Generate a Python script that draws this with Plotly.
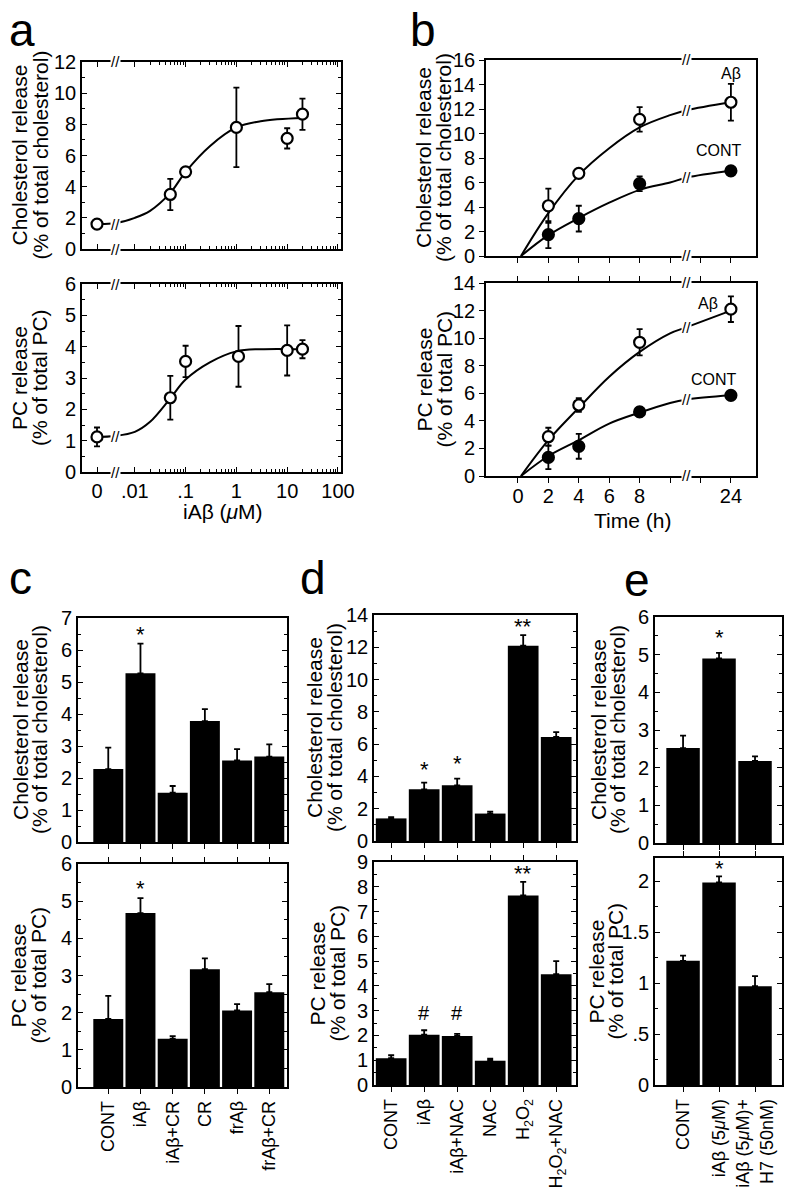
import math
import plotly.graph_objects as go

# the page body adds an 8 px margin, so the figure is drawn 8 px in from the corner
PAGE_W, PAGE_H, OFF = 792, 1199, 8
W, H = PAGE_W - OFF, PAGE_H - OFF
FONT = "Liberation Sans, Arial, Helvetica, sans-serif"

# ---------------- panel a: dose response (iAβ, µM) ----------------
A_CONC = [0, 0.05, 0.1, 1, 10, 20]
A_CHOL = [1.6, 3.5, 4.95, 7.8, 7.1, 8.65]
A_CHOL_ERR = [0.25, 1.0, 0.25, 2.55, 0.65, 1.0]
A_PC_CONC = [0, 0.05, 0.1, 1.1, 10, 20]
A_PC = [1.12, 2.37, 3.53, 3.69, 3.88, 3.92]
A_PC_ERR = [0.3, 0.7, 0.5, 0.97, 0.8, 0.29]
# fitted curves
A_FIT_CONC = [0, 0.004, 0.01, 0.02, 0.05, 0.1, 0.3, 1, 3, 20]
A_CHOL_FIT = [1.6, 1.65, 2.0, 2.45, 3.6, 4.95, 6.6, 7.8, 8.2, 8.4]
A_PC_FIT = [1.12, 1.15, 1.28, 1.6, 2.35, 2.95, 3.5, 3.85, 3.92, 3.92]
A_TICKS = [".01", ".1", "1", "10", "100"]
ZERO_POS = 0.0018      # where "0" sits on the broken log axis
A_BREAK = 0.0041

# ---------------- panel b: time course ----------------
B_TIME = [2, 4, 8, 24]
B_CHOL_AB = [4.1, 6.75, 11.15, 12.55]
B_CHOL_AB_ERR = [1.4, 0.35, 1.0, 1.5]
B_CHOL_CONT = [1.75, 3.05, 5.9, 6.95]
B_CHOL_CONT_ERR = [1.1, 1.05, 0.6, 0.3]
B_PC_AB = [2.85, 5.15, 9.7, 12.1]
B_PC_AB_ERR = [0.65, 0.5, 0.95, 0.93]
B_PC_CONT = [1.35, 2.15, 4.65, 5.85]
B_PC_CONT_ERR = [0.85, 0.9, 0.35, 0.15]
B_FIT_TIME = [0.2, 2, 4, 6, 8, 10, 11.1, 24]
B_CHOL_AB_FIT = [0, 3.5, 6.6, 8.8, 10.5, 11.5, 11.9, 12.55]
B_CHOL_CONT_FIT = [0, 1.7, 3.1, 4.35, 5.4, 6.0, 6.4, 6.95]
B_PC_AB_FIT = [0, 2.6, 4.95, 7.2, 9.0, 10.35, 10.8, 12.0]
B_PC_CONT_FIT = [0, 1.45, 2.6, 3.8, 4.6, 5.3, 5.55, 5.85]
B_TICK_TIME = [0, 2, 4, 6, 8, 10, 22, 24]
B_TICK_TEXT = ["0", "2", "4", "6", "8", "", "", "24"]
B_BREAK_T = 11.1
B_SHIFT = 10

# ---------------- panel c ----------------
C_LABELS = ["CONT", "iAβ", "iAβ+CR", "CR", "frAβ", "frAβ+CR"]
C_CHOL = [2.28, 5.27, 1.54, 3.78, 2.55, 2.67]
C_CHOL_ERR = [0.67, 0.93, 0.21, 0.37, 0.35, 0.38]
C_PC = [1.83, 4.68, 1.3, 3.17, 2.06, 2.55]
C_PC_ERR = [0.62, 0.4, 0.07, 0.29, 0.17, 0.22]

# ---------------- panel d ----------------
D_LABELS = ["CONT", "iAβ", "iAβ+NAC", "NAC", "H<sub>2</sub>O<sub>2</sub>",
            "H<sub>2</sub>O<sub>2</sub>+NAC"]
D_CHOL = [1.4, 3.2, 3.45, 1.7, 12.1, 6.45]
D_CHOL_ERR = [0.08, 0.42, 0.42, 0.12, 0.65, 0.3]
D_PC = [1.08, 2.03, 1.98, 0.98, 7.65, 4.47]
D_PC_ERR = [0.12, 0.18, 0.08, 0.08, 0.55, 0.53]

# ---------------- panel e ----------------
E_LABELS = ["CONT", "iAβ (5<i>μ</i>M)", "iAβ (5<i>μ</i>M)+<br>H7 (50nM)"]
E_CHOL = [2.52, 4.9, 2.18]
E_CHOL_ERR = [0.33, 0.15, 0.12]
E_PC = [1.22, 1.99, 0.97]
E_PC_ERR = [0.05, 0.06, 0.1]

CHOL_TITLE = ["Cholesterol release", "(% of total cholesterol)"]
PC_TITLE = ["PC release", "(% of total PC)"]
TICK_SIZE = 20
TITLE_SIZE = 21


def a_pos(c):
    return ZERO_POS if c == 0 else c


def b_pos(t):
    return t if t <= B_BREAK_T else t - B_SHIFT


def px(x):
    return (x - OFF) / W


def py(y):
    return 1 - (y - OFF) / H


def dom(x0, x1, y0, y1):
    return [px(x0), px(x1)], [py(y1), py(y0)]


fig = go.Figure()
layout = dict(width=W, height=H, margin=dict(l=0, r=0, t=0, b=0, autoexpand=False),
              autosize=False, plot_bgcolor="white", paper_bgcolor="white",
              showlegend=False, font=dict(family=FONT, color="black", size=18),
              annotations=[])

base = dict(showline=True, linecolor="black", linewidth=1.6, showgrid=False,
            zeroline=False, tickcolor="black", tickwidth=1.4, ticklen=5,
            automargin=False,
            tickfont=dict(size=TICK_SIZE, family=FONT, color="black"))

# page-pixel boxes: (x0, x1, y0, y1)
BOX = {
    1: (82, 341, 62, 249), 2: (82, 341, 284, 472),
    3: (486, 756, 60, 256), 4: (486, 756, 283, 476),
    5: (78, 287, 618, 842), 6: (78, 287, 864, 1087),
    7: (374, 576, 615, 841), 8: (374, 576, 862, 1085),
    9: (655, 782, 617, 843), 10: (655, 782, 858, 1085),
}
# offsets of the two y-title lines from the left axis
TITLE_DX = {1: (-63, -42), 2: (-63, -43), 3: (-62, -42), 4: (-62, -42),
            5: (-58, -39), 6: (-60, -40), 7: (-60, -40), 8: (-57, -37),
            9: (-57, -38), 10: (-59, -40)}


def text(x, y, s, size, angle=0, **kw):
    d = dict(xref="paper", yref="paper", x=px(x), y=py(y), text=s, showarrow=False,
             xanchor="center", yanchor="middle", textangle=angle,
             font=dict(size=size, family=FONT, color="black"))
    d.update(kw)
    layout["annotations"].append(d)


def axes(i, xopts, yopts, title):
    xd, yd = dom(*BOX[i])
    sx = "" if i == 1 else str(i)
    layout["xaxis" + sx] = dict(base, domain=xd, anchor="y" + sx, **xopts)
    layout["yaxis" + sx] = dict(base, domain=yd, anchor="x" + sx, **yopts)
    x0, _, y0, y1 = BOX[i]
    for line, dx in zip(title, TITLE_DX[i]):
        text(x0 + dx, (y0 + y1) / 2, line, TITLE_SIZE, -90)
    return "x" + sx, "y" + sx


def note(xr, yr, x, y, s, size=18, bg=None):
    d = dict(xref=xr, yref=yr, x=x, y=y, text=s, showarrow=False,
             xanchor="center", yanchor="middle",
             font=dict(size=size, family=FONT, color="black"))
    if bg:
        d.update(bgcolor=bg, borderpad=0)
    layout["annotations"].append(d)


def points(xr, yr, xs, ys, err, filled):
    fig.add_trace(go.Scatter(
        x=xs, y=ys, xaxis=xr, yaxis=yr, mode="markers",
        marker=dict(symbol="circle", size=11, color="black" if filled else "white",
                    line=dict(color="black", width=2.2)),
        error_y=dict(type="data", array=err, color="black", thickness=1.8, width=3)))


def curve(xr, yr, xs, ys):
    fig.add_trace(go.Scatter(x=xs, y=ys, xaxis=xr, yaxis=yr, mode="lines",
                             line=dict(color="black", width=2, shape="spline"),
                             hoverinfo="skip"))


def bars(xr, yr, labels, vals, err):
    fig.add_trace(go.Bar(
        x=labels, y=vals, xaxis=xr, yaxis=yr, width=0.93, marker_color="black",
        marker_line_width=0,
        error_y=dict(type="data", array=err, arrayminus=[0] * len(err), symmetric=False,
                     color="black", thickness=1.8, width=3)))


# ---------------- panel a ----------------
minor_log = [k * 10 ** e for e in range(-2, 2) for k in range(2, 10)]
a_x = dict(type="log", range=[-3.04, 2.06], ticks="inside", mirror="ticks",
           tickvals=[ZERO_POS, 0.01, 0.1, 1, 10, 100], ticktext=["0"] + A_TICKS,
           minor=dict(tickvals=minor_log, ticks="inside", ticklen=3, tickcolor="black"))
for i, (ys, err, fit, conc, top, yt, rng, dt) in enumerate([
        (A_CHOL, A_CHOL_ERR, A_CHOL_FIT, A_CONC, True, CHOL_TITLE, [0, 12], 2),
        (A_PC, A_PC_ERR, A_PC_FIT, A_PC_CONC, False, PC_TITLE, [0, 6], 1)]):
    xr, yr = axes(i + 1, dict(a_x, showticklabels=not top),
                  dict(range=rng, dtick=dt, ticks="inside", mirror="ticks",
                       minor=dict(dtick=dt / 2, ticks="inside", ticklen=3, tickcolor="black")),
                  yt)
    curve(xr, yr, [a_pos(c) for c in A_FIT_CONC], fit)
    points(xr, yr, [a_pos(c) for c in conc], ys, err, False)
    lb = math.log10(A_BREAK)
    note(xr, yr + " domain", lb, 0, "//", 15, "white")
    note(xr, yr + " domain", lb, 1, "//", 15, "white")
    note(xr, yr, lb, fit[0], "//", 15, "white")
text(223, 512, "iAβ (<i>μ</i>M)", TITLE_SIZE)

# ---------------- panel b ----------------
b_tv = [b_pos(t) for t in B_TICK_TIME]
for i, (ab, abe, ct, cte, abf, ctf, top, yt, rng, labs) in enumerate([
        (B_CHOL_AB, B_CHOL_AB_ERR, B_CHOL_CONT, B_CHOL_CONT_ERR, B_CHOL_AB_FIT,
         B_CHOL_CONT_FIT, True, CHOL_TITLE, [0, 16], ((24, 14.9), (23.2, 8.65))),
        (B_PC_AB, B_PC_AB_ERR, B_PC_CONT, B_PC_CONT_ERR, B_PC_AB_FIT,
         B_PC_CONT_FIT, False, PC_TITLE, [0, 14], ((22.5, 12.5), (22.9, 7.0)))]):
    xr, yr = axes(i + 3,
                  dict(range=[-2.1, 15.65], tickvals=b_tv, ticktext=B_TICK_TEXT,
                       ticks="outside", mirror=True if top else "ticks",
                       showticklabels=not top, ticklabelstandoff=-4),
                  dict(range=rng, dtick=2, ticks="outside", mirror=True),
                  yt)
    bx = [b_pos(t) for t in B_FIT_TIME]
    curve(xr, yr, bx, abf)
    curve(xr, yr, bx, ctf)
    ptx = [b_pos(t) for t in B_TIME]
    points(xr, yr, ptx, ct, cte, True)
    points(xr, yr, ptx, ab, abe, False)
    kb = B_FIT_TIME.index(B_BREAK_T)
    note(xr, yr + " domain", B_BREAK_T, 0, "//", 15, "white")
    note(xr, yr + " domain", B_BREAK_T, 1, "//", 15, "white")
    note(xr, yr, B_BREAK_T, abf[kb], "//", 15, "white")
    note(xr, yr, B_BREAK_T, ctf[kb], "//", 15, "white")
    note(xr, yr, b_pos(labs[0][0]), labs[0][1], "Aβ", 16)
    note(xr, yr, b_pos(labs[1][0]), labs[1][1], "CONT", 16)
text(632, 521, "Time (h)", TITLE_SIZE)

# ---------------- panels c, d, e ----------------
bar_panels = [
    (5, C_LABELS, C_CHOL, C_CHOL_ERR, CHOL_TITLE, [0, 7], 1, [-0.94, 5.55],
     [(1, 6.5, "*")]),
    (6, C_LABELS, C_PC, C_PC_ERR, PC_TITLE, [0, 6], 1, [-0.94, 5.55],
     [(1, 5.35, "*")]),
    (7, D_LABELS, D_CHOL, D_CHOL_ERR, CHOL_TITLE, [0, 14], 2, [-0.52, 5.6],
     [(1, 4.4, "*"), (2, 4.8, "*"), (4, 13.3, "**")]),
    (8, D_LABELS, D_PC, D_PC_ERR, PC_TITLE, [0, 9], 1, [-0.52, 5.6],
     [(1, 2.9, "#"), (2, 2.9, "#"), (4, 8.55, "**")]),
    (9, E_LABELS, E_CHOL, E_CHOL_ERR, CHOL_TITLE, [0, 6], 1, [-0.78, 2.75],
     [(1, 5.45, "*")]),
    (10, E_LABELS, E_PC, E_PC_ERR, PC_TITLE, [0, 2.23], 0.5, [-0.78, 2.75],
     [(1, 2.13, "*")]),
]
for idx, labels, vals, err, yt, rng, dt, xrng, marks in bar_panels:
    top = idx % 2 == 1
    yopts = dict(range=rng, dtick=dt, ticks="inside", mirror="ticks",
                 minor=dict(dtick=dt / 2, ticks="inside", ticklen=3, tickcolor="black"))
    if dt == 0.5:
        yopts.update(tickvals=[0, 0.5, 1, 1.5, 2], ticktext=["0", ".5", "1", "1.5", "2"])
    xr, yr = axes(idx,
                  dict(type="category", range=xrng, ticks="outside",
                       mirror=True if top else "ticks", showticklabels=not top,
                       tickangle=-90, categoryorder="array", categoryarray=labels,
                       tickfont=dict(size=18, family=FONT, color="black")),
                  yopts, yt)
    bars(xr, yr, labels, vals, err)
    for k, yv, s in marks:
        note(xr, yr, labels[k], yv, s, 22 if s != "#" else 20)

# panel letters
for letter, x, y in [("a", 22, 30), ("b", 423, 30), ("c", 20, 578), ("d", 313, 578),
                     ("e", 637, 580)]:
    text(x, y, letter, 46)

fig.update_layout(**layout)
fig.write_html("out.html")
